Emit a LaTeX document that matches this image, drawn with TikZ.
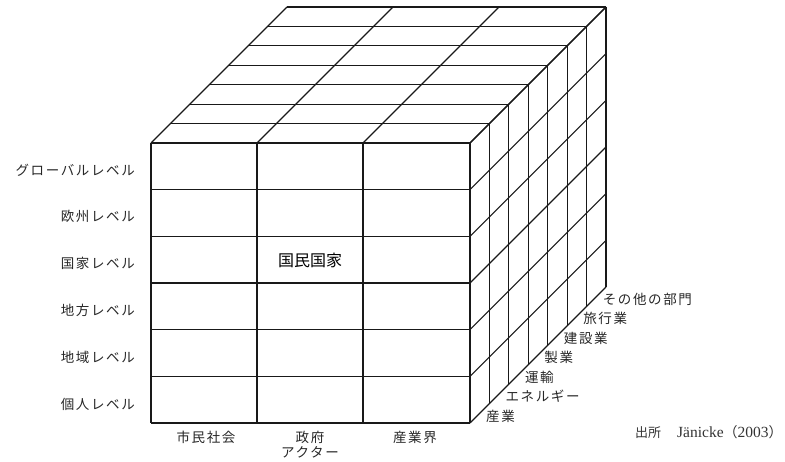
\documentclass[tikz,border=0pt]{standalone}
\usepackage{fontspec}
\newfontfamily\jp[LetterSpace=12]{Noto Sans CJK JP}
\newfontfamily\jpb{Noto Sans CJK JP}
\setmainfont{Liberation Serif}
\begin{document}
\begin{tikzpicture}[x=1pt,y=-1pt,
  gridline/.style={line width=1.1pt,draw=black!90},
  lab/.style={font=\jp\fontsize{13.5}{13.5}\selectfont,text=black!85,inner sep=0pt},
  toplab/.style={font=\jpb\fontsize{16}{16}\selectfont,inner sep=0pt}]
\useasboundingbox (0,0) rectangle (785,462);
\def\D{19.43}
% front face
\foreach \x in {151,257,363,470} \draw[gridline] (\x,143) -- (\x,423);
\foreach \i in {0,...,6} \draw[gridline] (151,143+46.667*\i) -- (470,143+46.667*\i);
% top face
\foreach \k in {0,...,7} \draw[gridline] (151+\D*\k,143-\D*\k) -- (470+\D*\k,143-\D*\k);
\foreach \x in {151,257,363,470} \draw[gridline] (\x,143) -- (\x+136,7);
% right face
\foreach \k in {0,...,7} \draw[gridline] (470+\D*\k,143-\D*\k) -- (470+\D*\k,423-\D*\k);
\foreach \i in {0,...,6} \draw[gridline] (470,143+46.667*\i) -- (606,7+46.667*\i);
% level labels
\node[lab,anchor=east] (l1) at (135,170) {グローバルレベル};
\node[lab,anchor=east] (l2) at (135,216) {欧州レベル};
\node[lab,anchor=east] (l3) at (135,263) {国家レベル};
\node[lab,anchor=east] (l4) at (135,310) {地方レベル};
\node[lab,anchor=east] (l5) at (135,357) {地域レベル};
\node[lab,anchor=east] (l6) at (135,404) {個人レベル};
% actor labels
\node[lab] (a1) at (206,437) {市民社会};
\node[lab] (a2) at (310,437) {政府};
\node[lab] (a3) at (310,452) {アクター};
\node[lab] (a4) at (415,437) {産業界};
% sector labels
\node[lab,anchor=west] (s0) at (486,416) {産業};
\node[lab,anchor=west] (s1) at (486+\D,416-\D) {エネルギー};
\node[lab,anchor=west] (s2) at (486+2*\D,416-2*\D) {運輸};
\node[lab,anchor=west] (s3) at (486+3*\D,416-3*\D) {製業};
\node[lab,anchor=west] (s4) at (486+4*\D,416-4*\D) {建設業};
\node[lab,anchor=west] (s5) at (486+5*\D,416-5*\D) {旅行業};
\node[lab,anchor=west] (s6) at (486+6*\D,416-6*\D) {その他の部門};
% centre
\node[toplab] (nat) at (310,260) {国民国家};
% source
\node[anchor=west,inner sep=0pt,text=black!80] (src) at (635,432) {{\jpb\fontsize{13}{13}\selectfont 出所}\hspace{16pt}{\fontsize{15.5}{15.5}\selectfont Jänicke}{\jpb\fontsize{14}{14}\selectfont （}{\fontsize{15.5}{15.5}\selectfont 2003}{\jpb\fontsize{14}{14}\selectfont ）}};
\end{tikzpicture}
\end{document}
